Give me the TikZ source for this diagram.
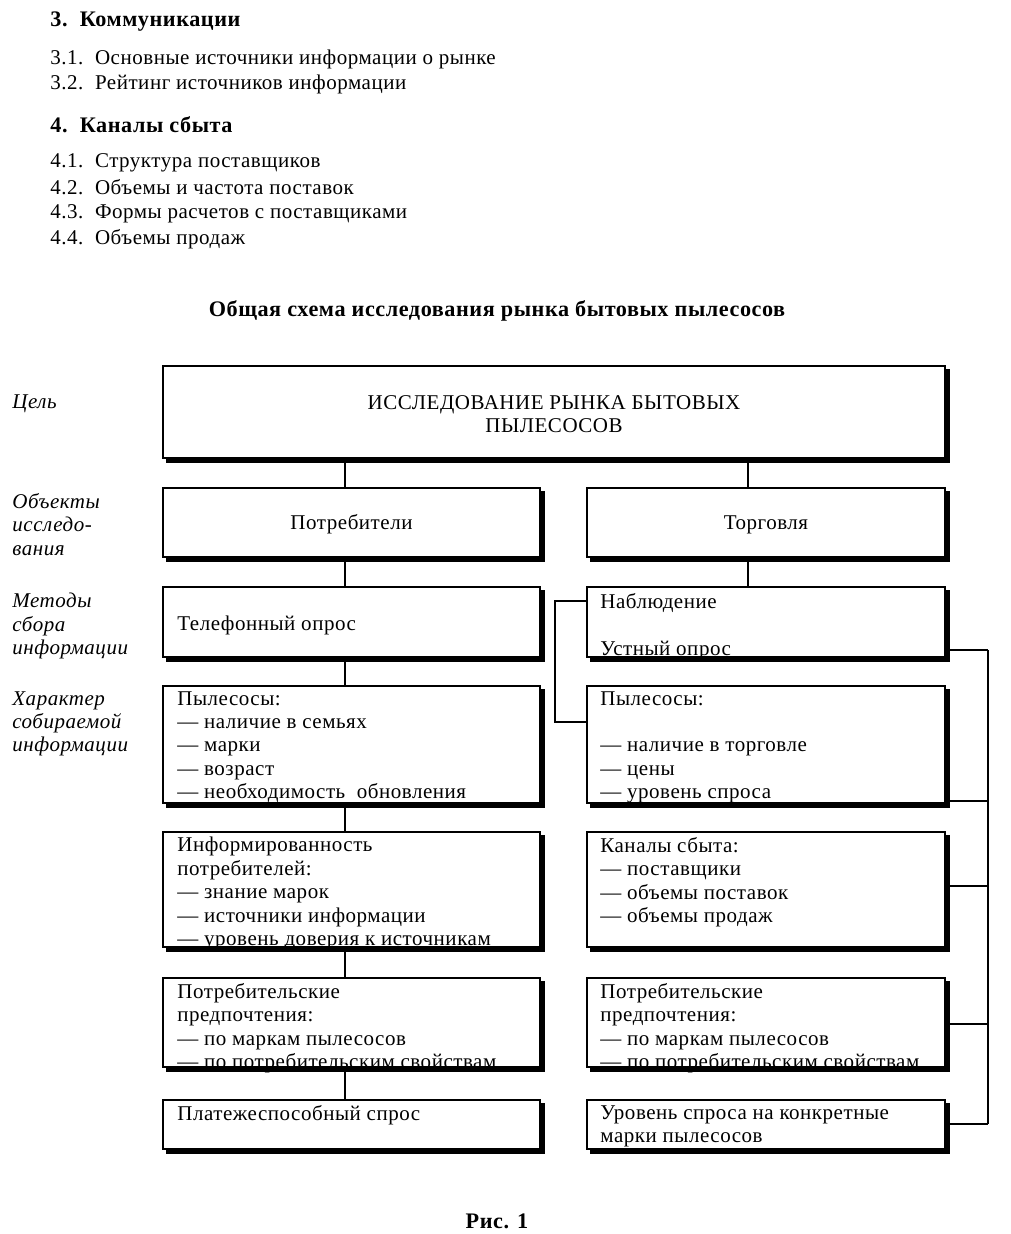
\documentclass[tikz,border=0pt]{standalone}
\usepackage{fontspec}
\setmainfont{Liberation Serif}[LetterSpace=2.5]
\usepackage{tikz}
\usetikzlibrary{fit}

\tikzset{
  blok/.style={draw,line width=0.8pt,fill=white,inner sep=0pt},
  ten/.style={fill=black},
  txt/.style={anchor=north west,inner sep=0pt,align=left,font=\fontsize{10.5}{11.7}\selectfont},
  ctxt/.style={inner sep=0pt,align=center,font=\fontsize{10.5}{11.7}\selectfont},
  lbl/.style={txt,font=\fontsize{10.5}{11.7}\selectfont\itshape},
  zag/.style={font=\fontsize{11.1}{12}\selectfont\bfseries},
  link/.style={line width=0.8pt}
}

\begin{document}
\begin{tikzpicture}[x=0.5pt,y=-0.5pt]
  \useasboundingbox (0,0) rectangle (1010,1234);
  % plan of the study
  \node[txt,zag] (h3) at (50,11) {3.\ \ Коммуникации};
  \node[txt] (p31) at (50,50) {3.1.\ \ Основные источники информации о рынке};
  \node[txt] (p32) at (50,75) {3.2.\ \ Рейтинг источников информации};
  \node[txt,zag] (h4) at (50,116) {4.\ \ Каналы сбыта};
  \node[txt] (p41) at (50,153) {4.1.\ \ Структура поставщиков};
  \node[txt] (p42) at (50,179) {4.2.\ \ Объемы и частота поставок};
  \node[txt] (p43) at (50,204) {4.3.\ \ Формы расчетов с поставщиками};
  \node[txt] (p44) at (50,229) {4.4.\ \ Объемы продаж};
  \node[zag,anchor=base] (titul) at (497,317) {Общая схема исследования рынка бытовых пылесосов};

  % row labels
  \node[lbl] (lcel) at (12,394) {Цель};
  \node[lbl] (lobj) at (12,493) {Объекты\\исследо-\\вания};
  \node[lbl] (lmet) at (12,593) {Методы\\сбора\\информации};
  \node[lbl] (lhar) at (12,691) {Характер\\собираемой\\информации};

  % boxes
  \node[blok,fit={(163,366) (945,458)}] (cel) {};
  \node[blok,fit={(163,488) (540,557)}] (potr) {};
  \node[blok,fit={(587,488) (945,557)}] (torg) {};
  \foreach \n/\ya/\yb in {tel/587/657,pyl1/686/803,inf/832/947,pref1/978/1067,plat/1100/1149}
    \node[blok,fit={(163,\ya) (540,\yb)}] (\n) {};
  \foreach \n/\ya/\yb in {nabl/587/657,pyl2/686/803,kan/832/947,pref2/978/1067,ur/1100/1149}
    \node[blok,fit={(587,\ya) (945,\yb)}] (\n) {};
  % heavy right and bottom edges
  \foreach \n in {cel,potr,torg,tel,pyl1,inf,pref1,plat,nabl,pyl2,kan,pref2,ur}
    \fill[ten] ([xshift=2pt]\n.south west) -- ([shift={(2pt,-2pt)}]\n.south west)
      -- ([shift={(2pt,-2pt)}]\n.south east) -- ([shift={(2pt,-2pt)}]\n.north east)
      -- ([yshift=-2pt]\n.north east) -- (\n.south east) -- cycle;

  % box texts
  \node[ctxt] (tcel) at ([yshift=-1pt]cel.center) {ИССЛЕДОВАНИЕ РЫНКА БЫТОВЫХ\\ПЫЛЕСОСОВ};
  \node[ctxt] (tpotr) at ([yshift=-1pt]potr.center) {Потребители};
  \node[ctxt] (ttorg) at ([yshift=-1pt]torg.center) {Торговля};
  \node[txt] (ttel) at (177,616) {Телефонный опрос};
  \node[txt] (tpyl1) at (177,691) {Пылесосы:\\— наличие в семьях\\— марки\\— возраст\\— необходимость\ \ обновления};
  \node[txt] (tinf) at (177,837) {Информированность\\потребителей:\\— знание марок\\— источники информации\\— уровень доверия к источникам};
  \node[txt] (tpref1) at (177,983) {Потребительские\\предпочтения:\\— по маркам пылесосов\\— по потребительским свойствам};
  \node[txt] (tplat) at (177,1105) {Платежеспособный спрос};
  \node[txt] (tnabl) at (600,593) {Наблюдение\\\strut\\Устный опрос};
  \node[txt] (tpyl2) at (600,691) {Пылесосы:\\\strut\\— наличие в торговле\\— цены\\— уровень спроса};
  \node[txt] (tkan) at (600,837) {Каналы сбыта:\\— поставщики\\— объемы поставок\\— объемы продаж};
  \node[txt] (tpref2) at (600,983) {Потребительские\\предпочтения:\\— по маркам пылесосов\\— по потребительским свойствам};
  \node[txt] (tur) at (600,1105) {Уровень спроса на конкретные\\марки пылесосов};

  % connectors
  \coordinate (lx) at (345,0);
  \coordinate (rx) at (748,0);
  \foreach \a/\b in {cel/potr,potr/tel,tel/pyl1,pyl1/inf,inf/pref1,pref1/plat}
    \draw[link] ([yshift=-2pt]\a.south -| lx) -- (\b.north -| lx);
  \draw[link] ([yshift=-2pt]cel.south -| rx) -- (torg.north -| rx);
  \draw[link] ([yshift=-2pt]torg.south -| rx) -- (nabl.north -| rx);
  \coordinate (kr1) at (555,601);
  \coordinate (kr2) at (555,722);
  \draw[link] (nabl.west |- kr1) -- (kr1) -- (kr2) -- (pyl2.west |- kr2);
  \coordinate (bus) at (988,0);
  \foreach \b/\y in {nabl/650,pyl2/801,kan/886,pref2/1024,ur/1124}
    \draw[link] ([xshift=2pt]\b.east |- 0,\y) -- (bus |- 0,\y);
  \draw[link] (bus |- 0,650) -- (bus |- 0,1124);

  \node[zag,anchor=base] (ris) at (497,1228) {Рис. 1};
\end{tikzpicture}
\end{document}
